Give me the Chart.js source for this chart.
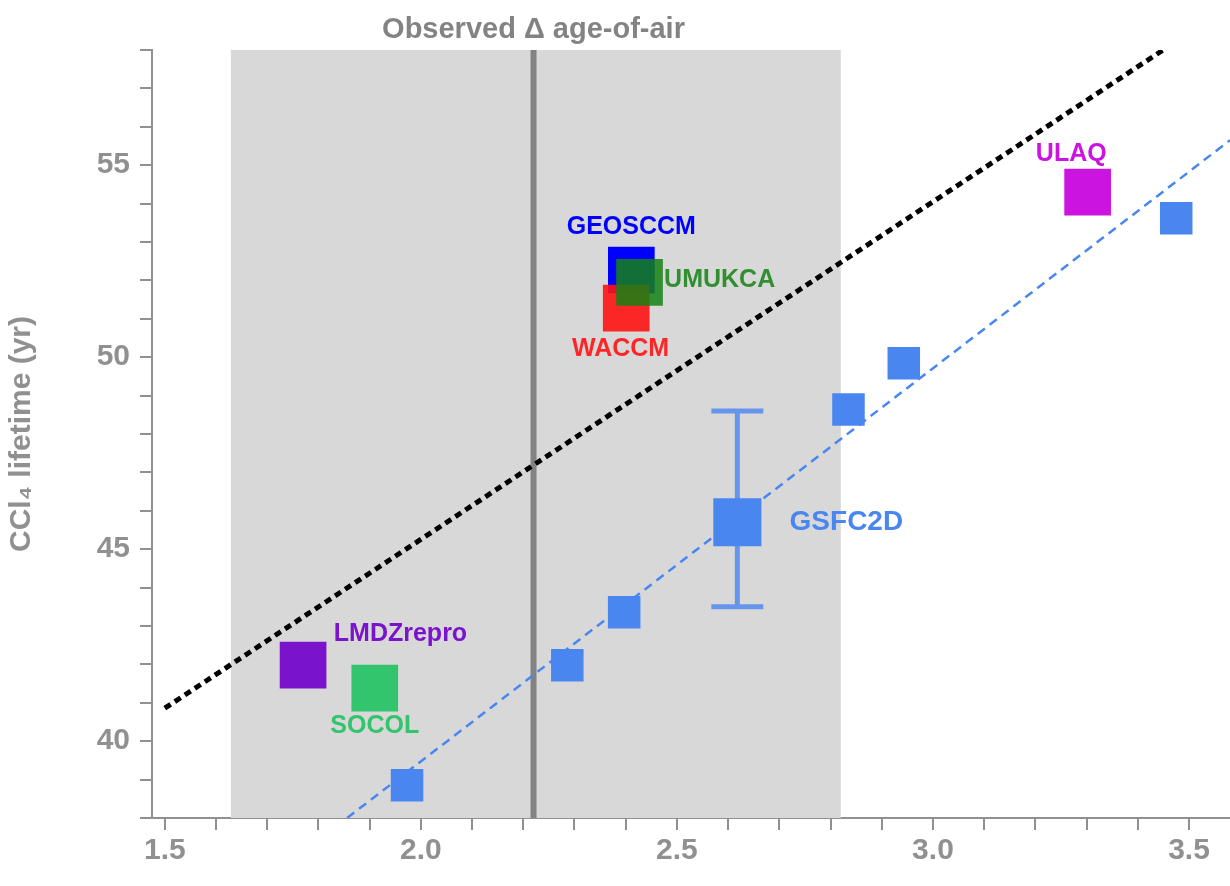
<!DOCTYPE html>
<html><head><meta charset="utf-8">
<script src="https://cdn.jsdelivr.net/npm/chart.js@4"></script>
<style>html,body{margin:0;padding:0;background:#fff}#wrap{width:1230px;height:886px}</style>
</head><body><div id="wrap"><canvas id="c"></canvas></div>
<script>
var gsfcX = [1.973, 2.286, 2.397, 2.835, 2.943, 3.475];
var gsfcY = [38.85, 41.98, 43.36, 48.64, 49.84, 53.62];
var gsfcMain = { x: 2.618, y: 45.7, lo: 43.5, hi: 48.6 };
var models = [
  { name: 'LMDZrepro', x: 1.77, y: 41.98, color: '#7a14cc', lx: 1.83, ly: 42.8, align: 'left' },
  { name: 'SOCOL', x: 1.91, y: 41.38, color: '#33c46e', lx: 1.91, ly: 40.4, align: 'center' },
  { name: 'GEOSCCM', x: 2.411, y: 52.27, color: '#0000ff', lx: 2.411, ly: 53.4, align: 'center' },
  { name: 'WACCM', x: 2.401, y: 51.28, color: 'rgba(255,20,20,0.9)', lx: 2.39, ly: 50.2, align: 'center' },
  { name: 'UMUKCA', x: 2.427, y: 51.95, color: 'rgba(20,130,20,0.85)', lx: 2.475, ly: 52, align: 'left' },
  { name: 'ULAQ', x: 3.302, y: 54.3, color: '#cc14e0', lx: 3.27, ly: 55.3, align: 'center' }
];
var obsBox = [1.629, 2.82];
var obsLine = 2.22;
var blackFit = [{ x: 1.5, y: 40.86 }, { x: 3.455, y: 58.05 }];
var blueFit = [{ x: 1.856, y: 38 }, { x: 3.58, y: 55.65 }];
var gsfcColor = '#4a86f0';
var axisGray = '#909090';
var fam = '"Liberation Sans", Arial, sans-serif';

var overlay = {
  id: 'overlay',
  beforeDatasetsDraw: function (ch) {
    var c = ch.ctx, xs = ch.scales.x, ys = ch.scales.y, a = ch.chartArea;
    c.save();
    c.fillStyle = '#d8d8d8';
    c.fillRect(xs.getPixelForValue(obsBox[0]), a.top, xs.getPixelForValue(obsBox[1]) - xs.getPixelForValue(obsBox[0]), a.bottom - a.top);
    c.strokeStyle = '#838383'; c.lineWidth = 6;
    var lx = xs.getPixelForValue(obsLine);
    c.beginPath(); c.moveTo(lx, a.top); c.lineTo(lx, a.bottom); c.stroke();
    c.fillStyle = '#838383'; c.font = 'bold 29px ' + fam;
    c.textAlign = 'center'; c.textBaseline = 'bottom';
    c.fillText('Observed \u0394 age-of-air', lx, a.top - 6);
    var ex = xs.getPixelForValue(gsfcMain.x);
    c.strokeStyle = 'rgba(74,134,240,0.8)'; c.lineWidth = 5;
    c.beginPath();
    c.moveTo(ex, ys.getPixelForValue(gsfcMain.lo)); c.lineTo(ex, ys.getPixelForValue(gsfcMain.hi));
    c.moveTo(ex - 26, ys.getPixelForValue(gsfcMain.lo)); c.lineTo(ex + 26, ys.getPixelForValue(gsfcMain.lo));
    c.moveTo(ex - 26, ys.getPixelForValue(gsfcMain.hi)); c.lineTo(ex + 26, ys.getPixelForValue(gsfcMain.hi));
    c.stroke();
    c.restore();
  },
  afterDatasetsDraw: function (ch) {
    var c = ch.ctx, xs = ch.scales.x, ys = ch.scales.y;
    c.save();
    c.font = 'bold 25px ' + fam;
    c.textBaseline = 'middle';
    models.forEach(function (m) {
      c.fillStyle = m.color; c.textAlign = m.align;
      c.fillText(m.name, xs.getPixelForValue(m.lx), ys.getPixelForValue(m.ly));
    });
    c.fillStyle = gsfcColor; c.textAlign = 'left'; c.font = 'bold 28px ' + fam;
    c.fillText('GSFC2D', xs.getPixelForValue(2.72), ys.getPixelForValue(45.7));
    c.restore();
  }
};

var datasets = [
  { type: 'line', data: blackFit, borderColor: '#000', borderWidth: 5, borderDash: [7, 5], pointRadius: 0, order: 100 },
  { type: 'line', data: blueFit, borderColor: gsfcColor, borderWidth: 2.5, borderDash: [9, 6], pointRadius: 0, order: 101 },
  { data: gsfcX.map(function (x, i) { return { x: x, y: gsfcY[i] }; }), backgroundColor: gsfcColor, pointStyle: 'rect', pointRadius: 23, borderWidth: 0, order: 50 },
  { data: [{ x: gsfcMain.x, y: gsfcMain.y }], backgroundColor: gsfcColor, pointStyle: 'rect', pointRadius: 34, borderWidth: 0, order: 50 }
];
// later models sit on top (lower order is drawn last)
models.forEach(function (m, i) {
  datasets.push({ data: [{ x: m.x, y: m.y }], backgroundColor: m.color, pointStyle: 'rect', pointRadius: 33, borderWidth: 0, order: 20 - i });
});

new Chart(document.getElementById('c'), {
  type: 'scatter',
  data: { datasets: datasets },
  options: {
    responsive: true, maintainAspectRatio: false, animation: false,
    layout: { autoPadding: false, padding: { top: 50, right: 0, left: 0, bottom: 0 } },
    plugins: { legend: { display: false }, tooltip: { enabled: false } },
    scales: {
      x: {
        min: 1.475, max: 3.58,
        afterFit: function (s) { s.height = 68; },
        grid: { display: true, drawOnChartArea: false, tickLength: 12, color: axisGray, lineWidth: 2 },
        border: { color: axisGray, width: 2 },
        afterBuildTicks: function (s) { var t = []; for (var v = 15; v <= 35; v++) t.push({ value: v / 10 }); s.ticks = t; },
        ticks: { color: axisGray, font: { size: 30, weight: 'bold', family: fam }, autoSkip: false, maxRotation: 0,
          callback: function (v) { return Math.round(v * 10) % 5 === 0 ? v.toFixed(1) : ''; } }
      },
      y: {
        min: 38, max: 58,
        afterFit: function (s) { s.width = 152; },
        grid: { display: true, drawOnChartArea: false, tickLength: 12, color: axisGray, lineWidth: 2 },
        border: { color: axisGray, width: 2 },
        afterBuildTicks: function (s) { var t = []; for (var v = 38; v <= 58; v++) t.push({ value: v }); s.ticks = t; },
        ticks: { color: axisGray, font: { size: 30, weight: 'bold', family: fam }, autoSkip: false, padding: 10,
          callback: function (v) { return v % 5 === 0 ? v : ''; } },
        title: { display: true, text: 'CCl\u2084 lifetime (yr)', color: axisGray, font: { size: 30, weight: 'bold', family: fam } }
      }
    }
  },
  plugins: [overlay]
});
</script></body></html>
